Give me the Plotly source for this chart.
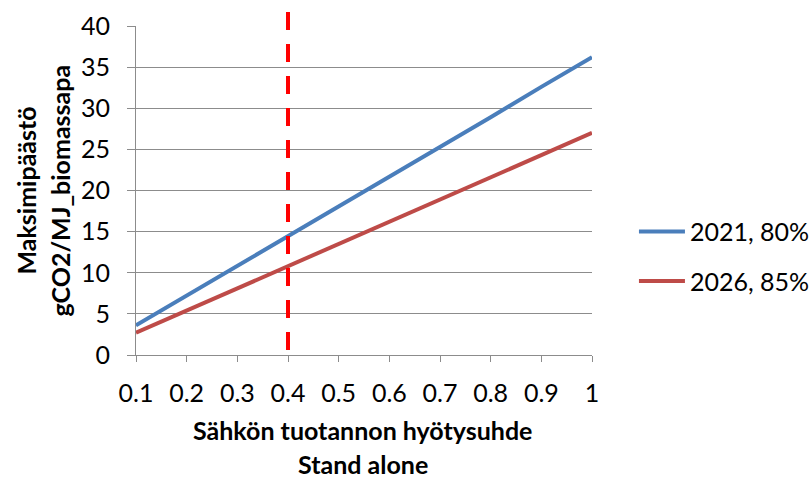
import plotly.graph_objects as go

# Electrical efficiency (stand alone)
efficiency = [0.1, 0.2, 0.3, 0.4, 0.5, 0.6, 0.7, 0.8, 0.9, 1.0]
# Maximum emission, gCO2 / MJ biomass input
max_2021 = [3.6, 7.2, 10.8, 14.4, 18.0, 21.7, 25.3, 28.9, 32.6, 36.2]
max_2026 = [2.7, 5.4, 8.1, 10.8, 13.5, 16.2, 18.9, 21.6, 24.3, 27.0]
series_names = ["2021, 80%", "2026, 85%"]

reference_efficiency = 0.4

x_tickvals = [0.1, 0.2, 0.3, 0.4, 0.5, 0.6, 0.7, 0.8, 0.9, 1.0]
x_ticktext = ["0.1", "0.2", "0.3", "0.4", "0.5", "0.6", "0.7", "0.8", "0.9", "1"]
y_tickvals = [0, 5, 10, 15, 20, 25, 30, 35, 40]

x_title = ["Sähkön tuotannon hyötysuhde", "Stand alone"]
y_title = ["Maksimipäästö", "gCO2/MJ_biomassapa"]

FONT = "Lato, 'Open Sans', sans-serif"
GRID = "#8c8c8c"

fig = go.Figure()
fig.add_trace(go.Scatter(x=efficiency, y=max_2021, mode="lines", name=series_names[0],
                         legendgroup="a", line=dict(color="#4A7EBB", width=4)))
fig.add_trace(go.Scatter(x=efficiency, y=max_2026, mode="lines", name=series_names[1],
                         legendgroup="b", line=dict(color="#BE4B48", width=4)))

# dashed marker at the reference efficiency
fig.add_shape(type="line", xref="x", yref="paper",
              x0=reference_efficiency, x1=reference_efficiency, y0=0.015, y1=1.055,
              line=dict(color="#FF0000", width=4, dash="18px,14px"))

fig.update_xaxes(range=[0.1, 1.0], tickvals=x_tickvals, ticktext=x_ticktext,
                 showgrid=False, showline=True, linecolor=GRID, linewidth=1,
                 ticks="outside", ticklen=6, tickcolor=GRID,
                 ticklabelstandoff=10,
                 tickfont=dict(family=FONT, size=25, color="#000"), zeroline=False)
fig.update_yaxes(range=[0, 40], tickvals=y_tickvals,
                 showgrid=True, gridcolor=GRID, gridwidth=1,
                 showline=True, linecolor=GRID, linewidth=1,
                 ticks="outside", ticklen=8, tickcolor=GRID,
                 ticklabelstandoff=12,
                 tickfont=dict(family=FONT, size=25, color="#000"), zeroline=False)

# axis titles, one annotation per line
for text, ypos in zip(x_title, [-0.228, -0.33]):
    fig.add_annotation(text=f"<b>{text}</b>", xref="paper", yref="paper",
                       x=0.497, y=ypos, yanchor="middle", showarrow=False,
                       borderpad=0,
                       font=dict(family=FONT, size=25, color="#000"))
for text, xpos in zip(y_title, [-0.2434, -0.1667]):
    fig.add_annotation(text=f"<b>{text}</b>", xref="paper", yref="paper",
                       x=xpos, y=0.5, xanchor="center", yanchor="middle",
                       textangle=-90, showarrow=False,
                       font=dict(family=FONT, size=25, color="#000"))

fig.update_layout(
    width=810, height=479,
    margin=dict(l=136, r=218, t=26, b=124, autoexpand=False),
    paper_bgcolor="white", plot_bgcolor="white",
    showlegend=True,
    legend=dict(x=1.092, y=0.30, yanchor="middle", xanchor="left",
                font=dict(family=FONT, size=25, color="#000"),
                itemwidth=46, tracegroupgap=14, bgcolor="rgba(0,0,0,0)"),
)

fig.write_html("out.html")
